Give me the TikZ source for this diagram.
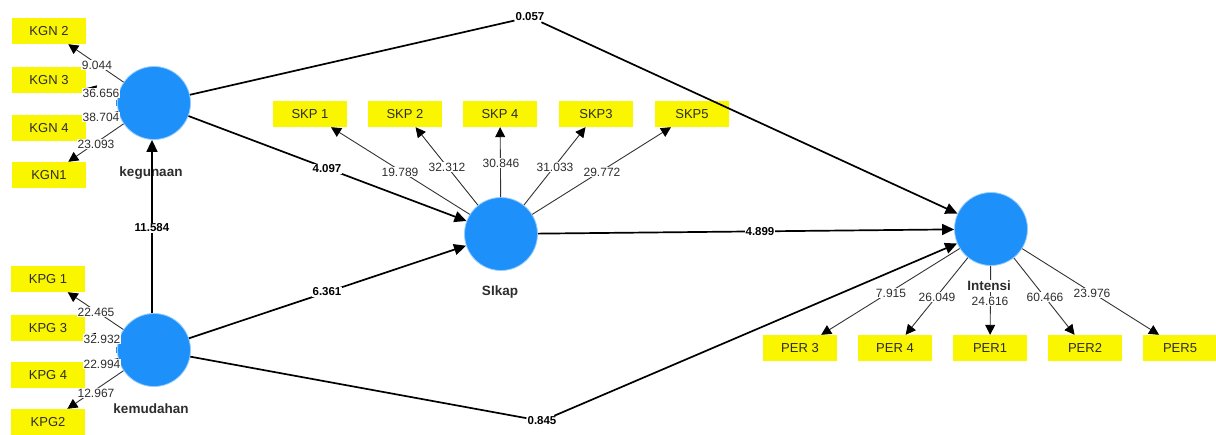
\documentclass[tikz,border=0pt]{standalone}
\usepackage{fontspec}
\setmainfont{Liberation Sans}
\usetikzlibrary{arrows.meta}
\definecolor{lvblue}{RGB}{30,144,250}
\definecolor{lvrim}{RGB}{150,205,255}
\definecolor{indyellow}{RGB}{250,246,0}
\definecolor{txtgray}{RGB}{45,45,45}

\begin{document}
\begin{tikzpicture}[x=1pt,y=-1pt,
  latent/.style={circle, fill=lvblue, draw=lvrim, line width=0.8pt, minimum size=73pt, inner sep=0pt},
  ind/.style={rectangle, fill=indyellow, minimum width=74pt, minimum height=26pt, inner sep=0pt,
    font=\fontsize{13}{13}\selectfont, text=txtgray},
  load/.style={draw=black!80, line width=0.9pt, -{Triangle[length=10pt,width=10pt,fill=black,color=black]}},
  pathc/.style={draw=black, line width=1.7pt, -{Triangle[length=12pt,width=11pt]}},
  lw/.style={fill=white, inner sep=0.6pt, font=\fontsize{12}{12}\selectfont, text=txtgray},
  pc/.style={fill=white, inner sep=1pt, font=\bfseries\fontsize{11.5}{11.5}\selectfont, text=black},
  lvname/.style={inner sep=0.6pt, font=\bfseries\fontsize{13.5}{13.5}\selectfont, text=txtgray}]

\useasboundingbox (0,0) rectangle (1216,434);

% small tabs on the left of the exogenous constructs
\fill[lvblue] (116,100) rectangle (124,106);
\fill[lvblue] (116,347) rectangle (124,353);

% latent variables
\node[latent] (K) at (154,103) {};
\node[latent] (M) at (154,350) {};
\node[latent] (S) at (501,234) {};
\node[latent] (I) at (991,229) {};

% indicators
\node[ind] (kgn2) at (49,31)  {KGN 2};
\node[ind] (kgn3) at (49,80)  {KGN 3};
\node[ind] (kgn4) at (49,128) {KGN 4};
\node[ind] (kgn1) at (49,175) {KGN1};
\node[ind] (kpg1) at (48,279) {KPG 1};
\node[ind] (kpg3) at (48,328) {KPG 3};
\node[ind] (kpg4) at (48,375) {KPG 4};
\node[ind] (kpg2) at (48,422) {KPG2};
\node[ind] (skp1) at (310,114) {SKP 1};
\node[ind] (skp2) at (405,114) {SKP 2};
\node[ind] (skp4) at (500,114) {SKP 4};
\node[ind] (skp3) at (596,114) {SKP3};
\node[ind] (skp5) at (692,114) {SKP5};
\node[ind] (per3) at (800,348) {PER 3};
\node[ind] (per4) at (895,348) {PER 4};
\node[ind] (per1) at (990,348) {PER1};
\node[ind] (per2) at (1085,348) {PER2};
\node[ind] (per5) at (1180,348) {PER5};

% construct names (kegunaan lies under the incoming arrow)
\node[lvname] (nK) at (151,173) {kegunaan};
\node[lvname] (nM) at (151,409) {kemudahan};
\node[lvname] (nS) at (500,292) {SIkap};

% outer loadings
\foreach \t in {kgn2,kgn3,kgn4,kgn1} \draw[load] (K) -- (\t);
\foreach \t in {kpg1,kpg3,kpg4,kpg2} \draw[load] (M) -- (\t);
\foreach \t in {skp1,skp2,skp4,skp3,skp5} \draw[load] (S) -- (\t);
\foreach \t in {per3,per4,per1,per2,per5} \draw[load] (I) -- (\t);

% structural paths
\node[pc] (c057) at (530,17) {0.057};
\node[pc] (c845) at (542,421) {0.845};
\draw[pathc] (K) -- (c057) -- (I);
\draw[pathc] (M) -- (c845) -- (I);
\draw[pathc] (K) -- (S);
\draw[pathc] (M) -- (S);
\draw[pathc] (S) -- (I);
\draw[pathc] (M.north -| 152,0) -- (K.south -| 152,0);

\node[pc] (c4097) at (327,169) {4.097};
\node[pc] (c6361) at (327,292) {6.361};
\node[pc] (c4899) at (760,232) {4.899};
\node[pc] (c11584) at (152,228) {11.584};

% loading values
\node[lw] (l1) at (97,65)   {9.044};
\node[lw] (l2) at (101,93)  {36.656};
\node[lw] (l3) at (101,117) {38.704};
\node[lw] (l4) at (96,144)  {23.093};
\node[lw] (l5) at (96,312)  {22.465};
\node[lw] (l6) at (102,339) {32.932};
\node[lw] (l7) at (102,364) {22.994};
\node[lw] (l8) at (96,393)  {12.967};
\node[lw] (l9) at (400,172)  {19.789};
\node[lw] (l10) at (447,167) {32.312};
\node[lw] (l11) at (501,163) {30.846};
\node[lw] (l12) at (555,167) {31.033};
\node[lw] (l13) at (602,172) {29.772};
\node[lw] (l14) at (891,293)  {7.915};
\node[lw] (l15) at (937,297)  {26.049};
\node[lvname, fill=white] (nI) at (989,286) {Intensi};
\node[lw] (l16) at (990,301)  {24.616};
\node[lw] (l17) at (1045,297) {60.466};
\node[lw] (l18) at (1092,293) {23.976};

\end{tikzpicture}
\end{document}
